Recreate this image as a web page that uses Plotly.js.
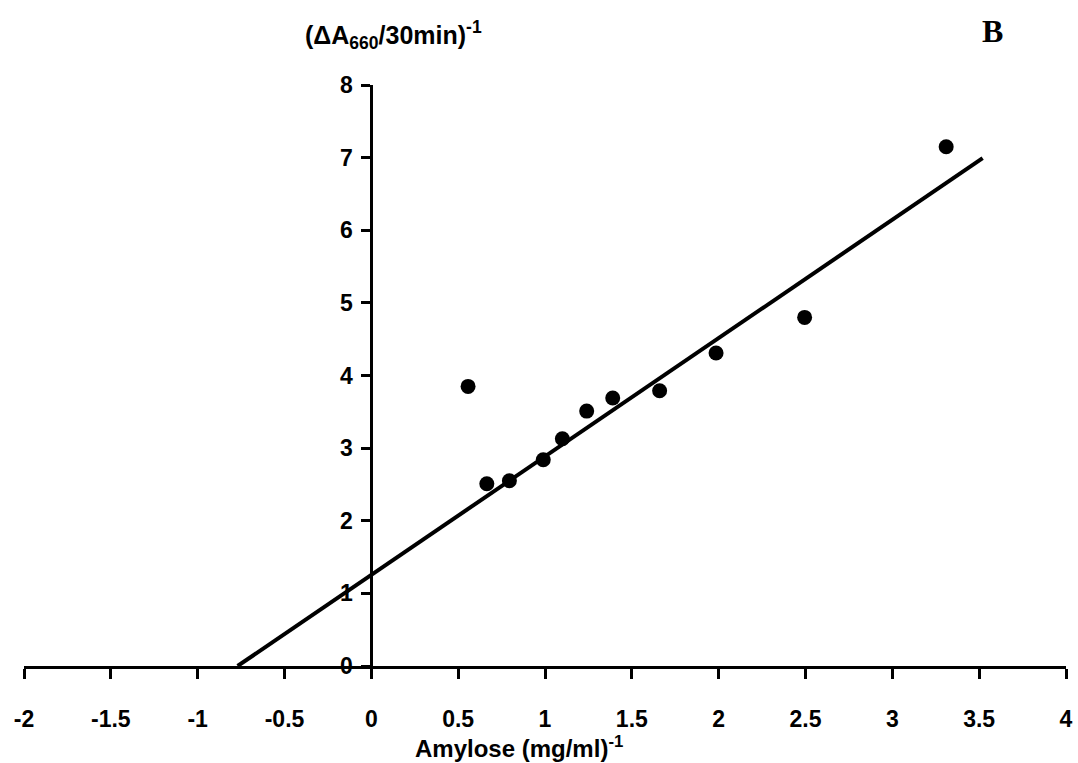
<!DOCTYPE html>
<html>
<head>
<meta charset="utf-8">
<script src="https://cdn.plot.ly/plotly-3.0.1.min.js"></script>
<style>
  html, body { margin: 0; padding: 0; background: #ffffff; }
  #chart { width: 1078px; height: 763px; }
</style>
</head>
<body>
<div id="chart"></div>
<script>
// Data
const amyloseInv = [0.557, 0.665, 0.795, 0.99, 1.10, 1.24, 1.39, 1.66, 1.985, 2.495, 3.31];
const rateInv    = [3.85, 2.51, 2.55, 2.84, 3.13, 3.51, 3.69, 3.79, 4.31, 4.80, 7.15];

// Fitted line
const fitSlope = 1.63;
const fitIntercept = 1.255;
const fitXRange = [-0.77, 3.52];

const xTickVals = [-2, -1.5, -1, -0.5, 0, 0.5, 1, 1.5, 2, 2.5, 3, 3.5, 4];
const xTickText = ['-2', '-1.5', '-1', '-0.5', '0', '0.5', '1', '1.5', '2', '2.5', '3', '3.5', '4'];
const yTickVals = [0, 1, 2, 3, 4, 5, 6, 7, 8];
const yTickText = ['0', '1', '2', '3', '4', '5', '6', '7', '8'];

const xTitle = 'Amylose (mg/ml)<sup>-1</sup>';
const yTitle = '(ΔA<sub>660</sub>/30min)<sup>-1</sup>';
const panelLabel = 'B';

const fitY = fitXRange.map(x => fitSlope * x + fitIntercept);
const bold = s => '<b>' + s + '</b>';

const font = 'Liberation Sans, Arial, sans-serif';

const traces = [
  {
    x: fitXRange,
    y: fitY,
    mode: 'lines',
    type: 'scatter',
    line: { color: '#000000', width: 4 },
    hoverinfo: 'skip',
    showlegend: false,
    cliponaxis: false
  },
  {
    x: amyloseInv,
    y: rateInv,
    mode: 'markers',
    type: 'scatter',
    marker: { color: '#000000', size: 15 },
    showlegend: false,
    cliponaxis: false
  }
];

const layout = {
  width: 1078,
  height: 763,
  margin: { l: 24, r: 12, t: 84.5, b: 96.5 },
  paper_bgcolor: '#ffffff',
  plot_bgcolor: 'rgba(0,0,0,0)',
  showlegend: false,
  xaxis: {
    range: [-2, 4],
    tickvals: xTickVals,
    ticktext: xTickText.map(bold),
    showgrid: false,
    zeroline: false,
    showline: true,
    linecolor: '#000000',
    linewidth: 3,
    ticks: 'outside',
    ticklen: 10,
    tickwidth: 3,
    tickcolor: '#000000',
    ticklabelstandoff: 20,
    tickfont: { family: font, size: 23, color: '#000000', weight: 700 }
  },
  yaxis: {
    range: [0, 8],
    tickvals: yTickVals,
    ticktext: yTickText.map(bold),
    anchor: 'free',
    position: 2 / 6,
    showgrid: false,
    zeroline: false,
    showline: true,
    linecolor: '#000000',
    linewidth: 3,
    ticks: 'outside',
    ticklen: 9,
    tickwidth: 3,
    tickcolor: '#000000',
    ticklabelstandoff: 4,
    tickfont: { family: font, size: 23, color: '#000000', weight: 700 }
  },
  annotations: [
    {
      xref: 'paper', yref: 'paper',
      x: (303 - 24) / 1042, y: (666.5 - 34) / 582,
      xanchor: 'left', yanchor: 'middle',
      showarrow: false,
      text: bold(yTitle),
      font: { family: font, size: 25, color: '#000000' }
    },
    {
      xref: 'paper', yref: 'paper',
      x: (413 - 24) / 1042, y: (666.5 - 748) / 582,
      xanchor: 'left', yanchor: 'middle',
      showarrow: false,
      text: bold(xTitle),
      font: { family: font, size: 24, color: '#000000' }
    },
    {
      xref: 'paper', yref: 'paper',
      x: (992 - 24) / 1042, y: (666.5 - 30) / 582,
      xanchor: 'center', yanchor: 'middle',
      showarrow: false,
      text: bold(panelLabel),
      font: { family: 'Liberation Serif, Times New Roman, serif', size: 32, color: '#000000' }
    }
  ]
};

Plotly.newPlot('chart', traces, layout, { displayModeBar: false, staticPlot: true });
</script>
</body>
</html>
